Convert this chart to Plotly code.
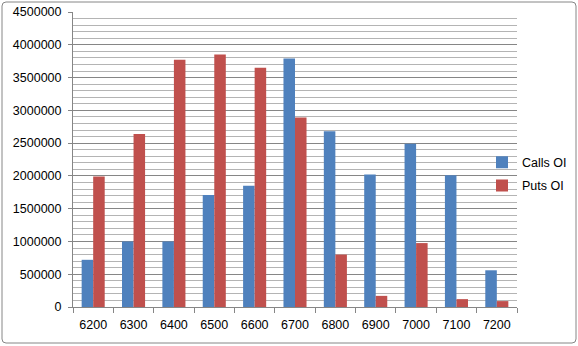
import plotly.graph_objects as go

strikes = ["6200", "6300", "6400", "6500", "6600", "6700", "6800", "6900", "7000", "7100", "7200"]
calls_oi = [720000, 1000000, 1000000, 1710000, 1850000, 3790000, 2680000, 2020000, 2490000, 2010000, 560000]
puts_oi = [1990000, 2640000, 3770000, 3850000, 3650000, 2890000, 800000, 170000, 975000, 120000, 90000]
y_ticks = [0, 500000, 1000000, 1500000, 2000000, 2500000, 3000000, 3500000, 4000000, 4500000]

W, H = 578, 346
L, R, T, B = 73, 61, 12, 39
PW, PH = W - L - R, H - T - B

def px_x(px):
    return (px - L) / PW

def px_y(py):
    return (H - B - py) / PH

FONT = "Liberation Sans, Arial, sans-serif"
AX = "#868686"

fig = go.Figure()
fig.add_trace(go.Bar(x=strikes, y=calls_oi, name="Calls OI", marker_color="#4F81BD",
                     marker_line_width=0, legendgroup="c"))
fig.add_trace(go.Bar(x=strikes, y=puts_oi, name="Puts OI", marker_color="#C0504D",
                     marker_line_width=0, legendgroup="p"))

fig.update_layout(
    width=W, height=H,
    margin=dict(l=L, r=R, t=T, b=B, autoexpand=False),
    paper_bgcolor="white", plot_bgcolor="white",
    font=dict(family=FONT, size=12.5, color="#000000"),
    barmode="group", bargap=0.4286, bargroupgap=0,
    showlegend=True,
    legend=dict(x=px_x(482), xanchor="left", y=px_y(147.5), yanchor="top",
                bgcolor="rgba(0,0,0,0)", borderwidth=0, tracegroupgap=4,
                font=dict(family=FONT, size=12.5, color="#000000")),
    xaxis=dict(type="category", showline=True, linecolor=AX, linewidth=1,
               ticks="outside", tickson="boundaries", ticklen=5, tickcolor=AX,
               showgrid=False, ticklabelstandoff=6),
    yaxis=dict(range=[0, 4500000], tickvals=y_ticks, ticktext=[str(v) for v in y_ticks],
               showline=True, linecolor=AX, linewidth=1,
               ticks="outside", ticklen=4, tickcolor=AX,
               showgrid=True, gridcolor=AX, gridwidth=1, zeroline=False,
               ticklabelstandoff=4,
               minor=dict(dtick=100000, tick0=0, showgrid=True, gridcolor="#B4B4B4",
                          gridwidth=1, ticks="")),
)

# outer chart border with rounded corners
x0, x1, y0, y1, r = 2, 576, 2, 343, 4
X = px_x
Y = px_y
path = (f"M {X(x0 + r)},{Y(y0)} L {X(x1 - r)},{Y(y0)} Q {X(x1)},{Y(y0)} {X(x1)},{Y(y0 + r)} "
        f"L {X(x1)},{Y(y1 - r)} Q {X(x1)},{Y(y1)} {X(x1 - r)},{Y(y1)} "
        f"L {X(x0 + r)},{Y(y1)} Q {X(x0)},{Y(y1)} {X(x0)},{Y(y1 - r)} "
        f"L {X(x0)},{Y(y0 + r)} Q {X(x0)},{Y(y0)} {X(x0 + r)},{Y(y0)} Z")
fig.add_shape(type="path", xref="paper", yref="paper", path=path,
              line=dict(color=AX, width=1), fillcolor="rgba(0,0,0,0)", layer="above")

fig.write_html("out.html")
